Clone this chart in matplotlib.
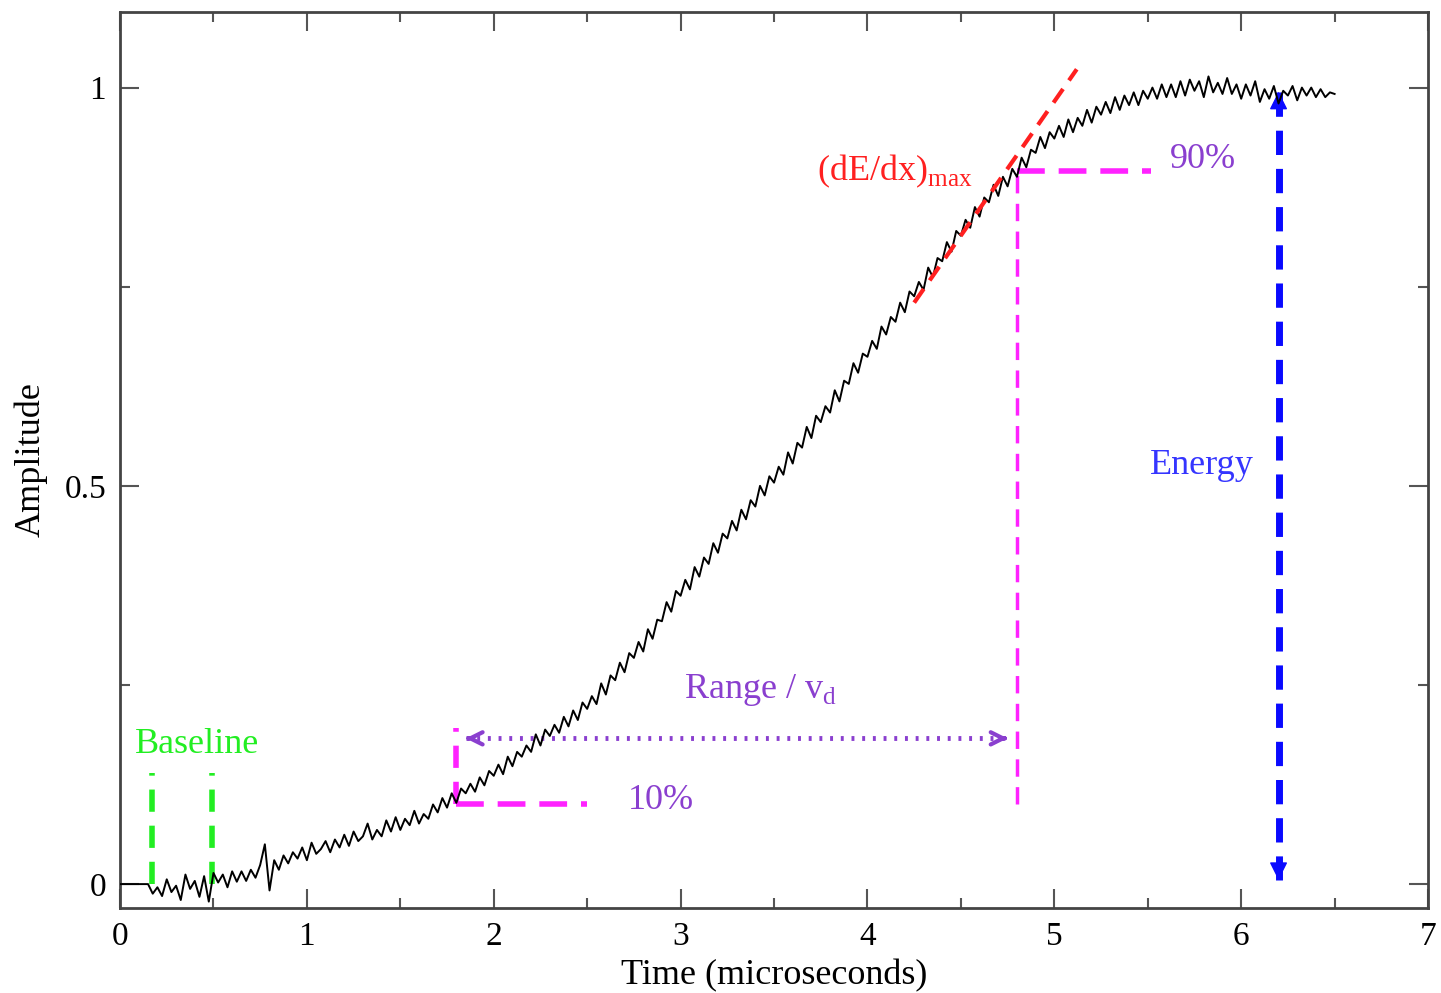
import numpy as np
import matplotlib
matplotlib.use('Agg')
import matplotlib.pyplot as plt
from matplotlib.ticker import MultipleLocator, FuncFormatter

# waveform: flat lead-in, then sampled trace
lead_t = [0.0]
lead_amp = [0.0]
t0 = 0.15
dt = 0.025
amp = [
    0.000, -0.012, -0.004, -0.015, 0.006, -0.010, -0.002, -0.020, 0.012, -0.006,
    0.004, -0.016, 0.010, -0.022, 0.014, 0.002, 0.012, -0.004, 0.016, 0.003,
    0.016, 0.004, 0.018, 0.008, 0.024, 0.050, -0.008, 0.030, 0.018, 0.036,
    0.026, 0.040, 0.032, 0.046, 0.030, 0.052, 0.038, 0.044, 0.054, 0.040,
    0.056, 0.046, 0.062, 0.048, 0.066, 0.054, 0.060, 0.076, 0.056, 0.068,
    0.060, 0.080, 0.066, 0.084, 0.068, 0.082, 0.074, 0.092, 0.076, 0.088,
    0.082, 0.100, 0.090, 0.108, 0.096, 0.114, 0.102, 0.120, 0.114, 0.126,
    0.116, 0.134, 0.124, 0.142, 0.136, 0.150, 0.138, 0.160, 0.148, 0.166,
    0.160, 0.174, 0.166, 0.188, 0.174, 0.194, 0.186, 0.200, 0.190, 0.210,
    0.198, 0.218, 0.206, 0.228, 0.220, 0.236, 0.226, 0.252, 0.238, 0.262,
    0.256, 0.278, 0.266, 0.290, 0.284, 0.304, 0.292, 0.320, 0.308, 0.332,
    0.330, 0.354, 0.342, 0.368, 0.362, 0.382, 0.370, 0.398, 0.386, 0.410,
    0.402, 0.428, 0.416, 0.440, 0.434, 0.456, 0.444, 0.470, 0.458, 0.482,
    0.474, 0.500, 0.488, 0.512, 0.504, 0.524, 0.514, 0.542, 0.528, 0.554,
    0.548, 0.574, 0.560, 0.588, 0.580, 0.600, 0.592, 0.620, 0.606, 0.632,
    0.628, 0.654, 0.642, 0.666, 0.662, 0.682, 0.672, 0.700, 0.690, 0.712,
    0.706, 0.730, 0.718, 0.744, 0.738, 0.756, 0.746, 0.774, 0.762, 0.786,
    0.782, 0.806, 0.794, 0.820, 0.814, 0.834, 0.824, 0.850, 0.838, 0.862,
    0.856, 0.878, 0.864, 0.888, 0.876, 0.898, 0.888, 0.912, 0.900, 0.922,
    0.918, 0.938, 0.924, 0.944, 0.936, 0.952, 0.938, 0.960, 0.944, 0.962,
    0.952, 0.972, 0.956, 0.976, 0.966, 0.982, 0.968, 0.988, 0.972, 0.990,
    0.978, 0.994, 0.978, 0.996, 0.986, 1.000, 0.986, 1.004, 0.988, 1.004,
    0.988, 1.008, 0.990, 1.010, 0.996, 1.008, 0.988, 1.014, 0.994, 1.006,
    0.992, 1.012, 0.992, 1.004, 0.986, 1.004, 0.990, 1.008, 0.982, 0.998,
    0.986, 1.002, 0.980, 0.996, 0.990, 1.002, 0.984, 1.000, 0.990, 1.000,
    0.988, 0.998, 0.988, 0.994, 0.992,
]

# annotation positions (data units)
baseline_t = [0.17, 0.49]
baseline_top = 0.14
t10, a10 = 1.8, 0.10
t90, a90 = 4.8, 0.895
range_a = 0.183
range_t = [1.85, 4.75]
slope_t = [4.25, 5.12]
slope_a = [0.73, 1.023]
energy_t = 6.2
energy_a = [0.995, 0.005]

plt.rcParams['font.family'] = ['Liberation Serif', 'DejaVu Serif']
plt.rcParams['mathtext.fontset'] = 'custom'
plt.rcParams['mathtext.rm'] = 'Liberation Serif'

fig = plt.figure(figsize=(14.41, 9.93), dpi=100)
ax = fig.add_axes([0.0833, 0.0856, 0.9077, 0.9024])

t = np.concatenate([lead_t, t0 + dt * np.arange(len(amp))])
a = np.concatenate([lead_amp, amp])
ax.plot(t, a, color='black', lw=1.4, zorder=5)

green = '#22ee22'
magenta = '#ff22ff'
purple = '#8a3fcf'
fs = 26

for bt in baseline_t:
    ax.plot([bt, bt], [0.0, baseline_top], color=green, lw=4, dashes=(4, 2.5))
ax.text(0.08, 0.175, 'Baseline', color=green, fontsize=fs, va='center', ha='left')

# 10% marker
ax.plot([t10, t10], [a10, 0.196], color=magenta, lw=4, dashes=(4, 2.5))
ax.plot([t10, 2.5], [a10, a10], color=magenta, lw=4, dashes=(5, 2.5))
ax.text(2.72, 0.105, '10%', color=purple, fontsize=fs, va='center', ha='left')

# 90% marker
ax.plot([t90, t90], [a10, a90], color=magenta, lw=2.5, dashes=(5, 3))
ax.plot([t90, 5.52], [a90, a90], color=magenta, lw=4, dashes=(5, 2.5))
ax.text(5.62, 0.91, '90%', color=purple, fontsize=fs, va='center', ha='left')

# range arrow: dotted shaft + open heads
ax.plot(range_t, [range_a, range_a], color=purple, lw=3.5, dashes=(0.6, 1.6))
for end, start in [(range_t[0], range_t[0] + 0.02), (range_t[1], range_t[1] - 0.02)]:
    ax.annotate('', xy=(end, range_a), xytext=(start, range_a),
                arrowprops=dict(arrowstyle='->', color=purple, lw=3,
                                mutation_scale=22, shrinkA=0, shrinkB=0))
ax.text(3.02, 0.244, r'Range / v$_{\rm d}$', color=purple, fontsize=fs,
        va='center', ha='left')

# max slope
ax.plot(slope_t, slope_a, color='#ff2020', lw=3, dashes=(4, 2.5), zorder=6)
ax.text(3.73, 0.895, r'(dE/dx)$_{\rm max}$', color='#ff2020', fontsize=fs,
        va='center', ha='left')

# energy arrow: dashed shaft + filled heads
ax.plot([energy_t, energy_t], energy_a, color='#0a0aff', lw=5, dashes=(3.5, 2))
for end, start in [(energy_a[0], energy_a[0] - 0.005), (energy_a[1], energy_a[1] + 0.005)]:
    ax.annotate('', xy=(energy_t, end), xytext=(energy_t, start),
                arrowprops=dict(arrowstyle='-|>', color='#0a0aff', lw=1,
                                mutation_scale=28, shrinkA=0, shrinkB=0))
ax.text(5.51, 0.526, 'Energy', color='#3535ff', fontsize=fs, va='center', ha='left')

ax.set_xlim(0, 7)
ax.set_ylim(-0.03, 1.095)
ax.xaxis.set_major_locator(MultipleLocator(1))
ax.xaxis.set_minor_locator(MultipleLocator(0.5))
ax.yaxis.set_major_locator(MultipleLocator(0.5))
ax.yaxis.set_minor_locator(MultipleLocator(0.25))
ax.yaxis.set_major_formatter(FuncFormatter(lambda v, p: '%g' % v))
ax.tick_params(which='both', direction='in', top=True, right=True,
               color='#555555', width=1.5, labelsize=24)
ax.tick_params(which='major', length=14, pad=10)
ax.tick_params(which='minor', length=7)
for s in ax.spines.values():
    s.set_color('#444444')
    s.set_linewidth(2)

ax.set_xlabel('Time (microseconds)', fontsize=26, labelpad=5)
ax.set_ylabel('Amplitude', fontsize=26, labelpad=12)

fig.savefig('out.png', dpi=100)
